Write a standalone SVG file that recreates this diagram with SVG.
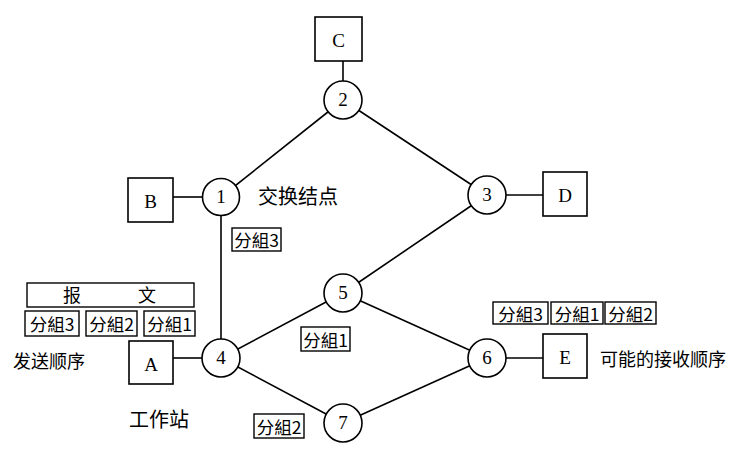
<svg xmlns="http://www.w3.org/2000/svg" width="736" height="450" viewBox="0 0 736 450">
<style>
.ln{stroke:#000;stroke-width:1.6;fill:none}
.nd{fill:#fff;stroke:#000;stroke-width:1.6}
.bx{fill:#fff;stroke:#000;stroke-width:1.6}
.tag{fill:#fff;stroke:#000;stroke-width:1.4}
.num{font-family:"Liberation Serif",serif;font-size:19px;text-anchor:middle;dominant-baseline:central}
.cj{font-family:"Noto Sans CJK SC","Noto Sans",sans-serif;fill:#000}
.tg{font-family:"Noto Sans CJK SC","Noto Sans",sans-serif;font-size:17.5px;text-anchor:middle;dominant-baseline:central}
</style>
<rect width="736" height="450" fill="#fff"/>
<g id="connectors">
<line class="ln" x1="343" y1="61" x2="343" y2="81"/>
<line class="ln" x1="173" y1="197" x2="202" y2="197"/>
<line class="ln" x1="506" y1="195" x2="543" y2="195"/>
<line class="ln" x1="173" y1="358" x2="202" y2="358"/>
<line class="ln" x1="506" y1="358" x2="543" y2="358"/>
<line class="ln" x1="221" y1="197" x2="221" y2="358"/>
<line class="ln" x1="221" y1="197" x2="343" y2="100"/>
<line class="ln" x1="343" y1="100" x2="487" y2="195"/>
<line class="ln" x1="487" y1="195" x2="343" y2="293"/>
<line class="ln" x1="343" y1="293" x2="221" y2="358"/>
<line class="ln" x1="343" y1="293" x2="487" y2="358"/>
<line class="ln" x1="221" y1="358" x2="343" y2="423"/>
<line class="ln" x1="343" y1="423" x2="487" y2="358"/>
</g>
<g id="node-C"><rect class="bx" x="315" y="17" width="47" height="44"/><text class="num" x="338.5" y="40">C</text></g>
<g id="node-B"><rect class="bx" x="128" y="178" width="45" height="44"/><text class="num" x="150.5" y="201">B</text></g>
<g id="node-D"><rect class="bx" x="543" y="172" width="44" height="44"/><text class="num" x="565" y="195">D</text></g>
<g id="node-A"><rect class="bx" x="129" y="341" width="44" height="43"/><text class="num" x="151" y="364">A</text></g>
<g id="node-E"><rect class="bx" x="543" y="334" width="44" height="44"/><text class="num" x="565" y="357">E</text></g>
<g id="node-1"><circle class="nd" cx="221" cy="197" r="18.5"/><text class="num" x="221" y="196">1</text></g>
<g id="node-2"><circle class="nd" cx="343" cy="100" r="19"/><text class="num" x="343" y="99">2</text></g>
<g id="node-3"><circle class="nd" cx="487" cy="195" r="19"/><text class="num" x="487" y="194">3</text></g>
<g id="node-4"><circle class="nd" cx="221" cy="358" r="19"/><text class="num" x="221" y="357">4</text></g>
<g id="node-5"><circle class="nd" cx="343" cy="293" r="19"/><text class="num" x="343" y="292">5</text></g>
<g id="node-6"><circle class="nd" cx="487" cy="358" r="19"/><text class="num" x="487" y="357">6</text></g>
<g id="node-7"><circle class="nd" cx="343" cy="423" r="19"/><text class="num" x="343" y="422">7</text></g>
<g id="labels">
<text class="cj" x="258" y="204" font-size="20">交换结点</text>
<text class="cj" x="13" y="368" font-size="18">发送顺序</text>
<text class="cj" x="129" y="427" font-size="20">工作站</text>
<text class="cj" x="600" y="366" font-size="18">可能的接收顺序</text>
</g>
<g id="message">
<rect class="tag" x="27" y="283" width="167" height="24"/>
<text class="cj" y="302" font-size="18"><tspan x="63">报</tspan><tspan x="138">文</tspan></text>
<rect class="tag" x="25" y="311" width="54" height="25"/><text class="tg" x="52" y="323.5">分組3</text>
<rect class="tag" x="86" y="311" width="51" height="25"/><text class="tg" x="111.5" y="323.5">分組2</text>
<rect class="tag" x="144" y="311" width="51" height="25"/><text class="tg" x="169.5" y="323.5">分組1</text>
</g>
<g id="packets">
<rect class="tag" x="232" y="228" width="49" height="23"/><text class="tg" x="256.5" y="239.5">分組3</text>
<rect class="tag" x="301" y="327" width="49" height="24"/><text class="tg" x="325.5" y="339">分組1</text>
<rect class="tag" x="254" y="414" width="50" height="24"/><text class="tg" x="279" y="426">分組2</text>
<rect class="tag" x="493" y="302" width="55" height="22"/><text class="tg" x="520.5" y="313">分組3</text>
<rect class="tag" x="551" y="302" width="52" height="22"/><text class="tg" x="577" y="313">分組1</text>
<rect class="tag" x="605" y="302" width="51" height="22"/><text class="tg" x="630.5" y="313">分組2</text>
</g>
</svg>
